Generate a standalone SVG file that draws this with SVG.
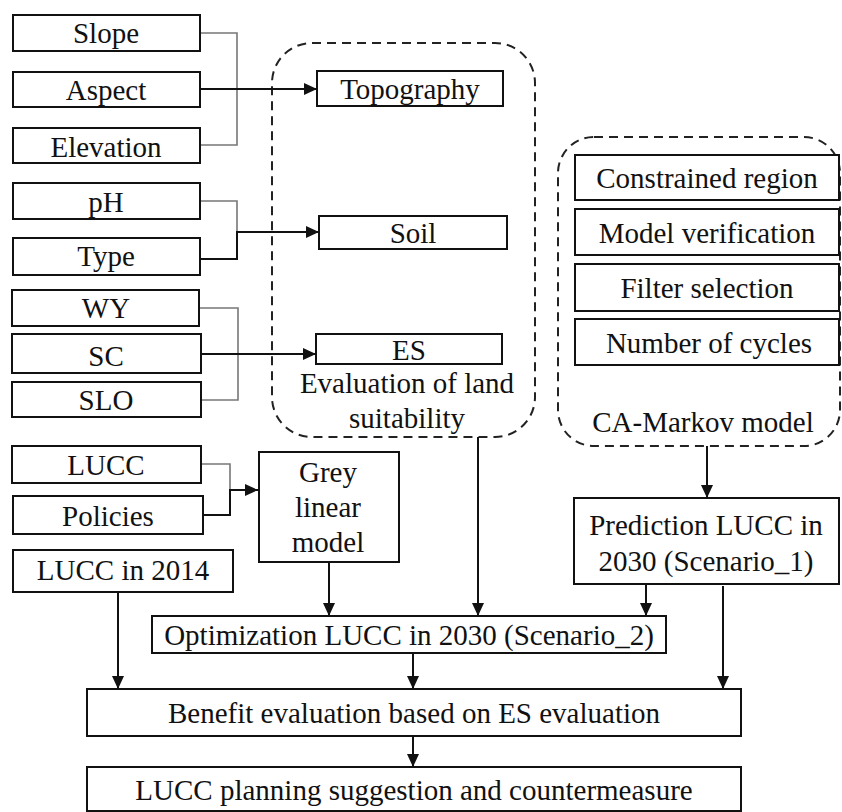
<svg xmlns="http://www.w3.org/2000/svg" width="842" height="812" viewBox="0 0 842 812">
<defs>
<style>
.box{fill:#fff;stroke:#111;stroke-width:2}
.grp{fill:none;stroke:#222;stroke-width:2;stroke-dasharray:9 6}
.t{font-family:"Liberation Serif","Times New Roman",serif;font-size:29px;fill:#111;text-anchor:middle}
.ln{fill:none;stroke:#111;stroke-width:2}
.gl{fill:none;stroke:#777;stroke-width:1.6}
</style>
<marker id="ah" markerUnits="userSpaceOnUse" markerWidth="13" markerHeight="12" refX="13" refY="6" orient="auto">
<path d="M0,0 L13,6 L0,12 z" fill="#111"/>
</marker>
</defs>
<rect width="842" height="812" fill="#fff"/>

<g id="groups">
<rect class="grp" x="272" y="43" width="263" height="394" rx="40"/>
<rect class="grp" x="558" y="137" width="282" height="309" rx="36"/>
</g>

<g id="connectors">
<path class="gl" d="M200 33 H237 V145 H200"/>
<path class="gl" d="M200 201 H237 V232"/>
<path class="gl" d="M199 308 H238 V400 H201"/>
<path class="gl" d="M201 464 H230 V490"/>
<path class="ln" d="M200 89 H317" marker-end="url(#ah)"/>
<path class="ln" d="M200 259 H237 V232 H319" marker-end="url(#ah)"/>
<path class="ln" d="M201 354 H316" marker-end="url(#ah)"/>
<path class="ln" d="M203 515 H230 V490 H258" marker-end="url(#ah)"/>
<path class="ln" d="M707 446 V498" marker-end="url(#ah)"/>
<path class="ln" d="M478 437 V616" marker-end="url(#ah)"/>
<path class="ln" d="M329 562 V616" marker-end="url(#ah)"/>
<path class="ln" d="M646 584 V616" marker-end="url(#ah)"/>
<path class="ln" d="M118 592 V689" marker-end="url(#ah)"/>
<path class="ln" d="M413 653 V689" marker-end="url(#ah)"/>
<path class="ln" d="M723 586 V689" marker-end="url(#ah)"/>
<path class="ln" d="M413 736 V767" marker-end="url(#ah)"/>
</g>

<g id="slope"><rect class="box" x="13" y="15" width="187" height="36"/><text class="t" x="106" y="43">Slope</text></g>
<g id="aspect"><rect class="box" x="13" y="72" width="187" height="35"/><text class="t" x="106" y="100">Aspect</text></g>
<g id="elevation"><rect class="box" x="13" y="128" width="187" height="35"/><text class="t" x="106" y="157">Elevation</text></g>
<g id="ph"><rect class="box" x="13" y="183" width="187" height="36"/><text class="t" x="106" y="212">pH</text></g>
<g id="type"><rect class="box" x="13" y="238" width="187" height="37"/><text class="t" x="106" y="266">Type</text></g>
<g id="wy"><rect class="box" x="12" y="290" width="187" height="36"/><text class="t" x="106" y="318">WY</text></g>
<g id="sc"><rect class="box" x="12" y="334" width="189" height="39"/><text class="t" x="106" y="366">SC</text></g>
<g id="slo"><rect class="box" x="12" y="382" width="189" height="35"/><text class="t" x="106" y="410">SLO</text></g>

<g id="topography"><rect class="box" x="317" y="71" width="186" height="35"/><text class="t" x="410" y="99">Topography</text></g>
<g id="soil"><rect class="box" x="319" y="216" width="188" height="33"/><text class="t" x="413" y="243">Soil</text></g>
<g id="es"><rect class="box" x="316" y="334" width="186" height="30"/><text class="t" x="409" y="360">ES</text></g>
<g id="land-suitability-label"><text class="t" x="407" y="393">Evaluation of land</text><text class="t" x="407" y="428">suitability</text></g>

<g id="constrained"><rect class="box" x="575" y="155" width="264" height="45"/><text class="t" x="707" y="188">Constrained region</text></g>
<g id="verification"><rect class="box" x="575" y="209" width="264" height="46"/><text class="t" x="707" y="243">Model verification</text></g>
<g id="filter"><rect class="box" x="575" y="264" width="264" height="47"/><text class="t" x="707" y="298">Filter selection</text></g>
<g id="cycles"><rect class="box" x="575" y="319" width="264" height="46"/><text class="t" x="709" y="353">Number of cycles</text></g>
<g id="ca-markov-label"><text class="t" x="703" y="432">CA-Markov model</text></g>

<g id="lucc"><rect class="box" x="12" y="446" width="189" height="37"/><text class="t" x="106" y="475">LUCC</text></g>
<g id="policies"><rect class="box" x="13" y="496" width="190" height="38"/><text class="t" x="108" y="526">Policies</text></g>
<g id="grey"><rect class="box" x="259" y="452" width="140" height="110"/><text class="t" x="328" y="482">Grey</text><text class="t" x="328" y="517">linear</text><text class="t" x="328" y="552">model</text></g>
<g id="lucc2014"><rect class="box" x="13" y="550" width="220" height="42"/><text class="t" x="123" y="580">LUCC in 2014</text></g>
<g id="prediction"><rect class="box" x="574" y="498" width="265" height="86"/><text class="t" x="706" y="535">Prediction LUCC in</text><text class="t" x="706" y="571">2030 (Scenario_1)</text></g>
<g id="optimization"><rect class="box" x="152" y="616" width="514" height="37"/><text class="t" x="409" y="645">Optimization LUCC in 2030 (Scenario_2)</text></g>
<g id="benefit"><rect class="box" x="87" y="689" width="654" height="47"/><text class="t" x="414" y="723">Benefit evaluation based on ES evaluation</text></g>
<g id="planning"><rect class="box" x="87" y="767" width="654" height="44"/><text class="t" x="414" y="800">LUCC planning suggestion and countermeasure</text></g>
</svg>
